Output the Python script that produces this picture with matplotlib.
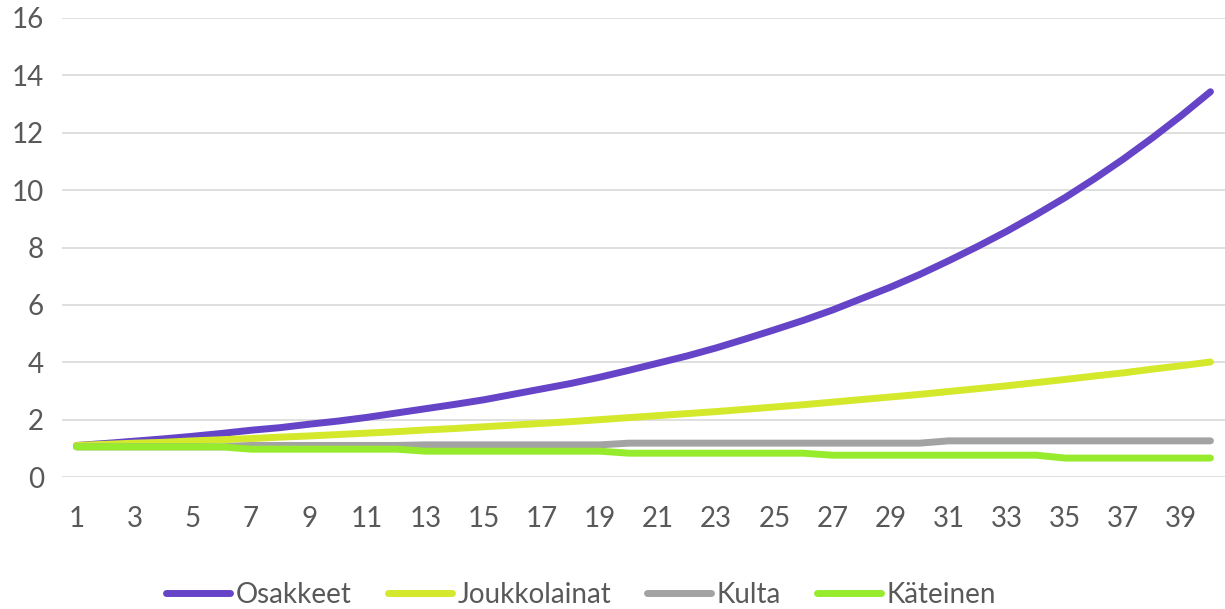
import matplotlib.pyplot as plt

# years 1..40
years = list(range(1, 41))

osakkeet = [1.10, 1.17, 1.25, 1.33, 1.42, 1.52, 1.63, 1.72, 1.84, 1.95,
            2.08, 2.23, 2.38, 2.53, 2.69, 2.88, 3.07, 3.26, 3.48, 3.72,
            3.97, 4.22, 4.50, 4.81, 5.13, 5.46, 5.82, 6.22, 6.62, 7.06,
            7.54, 8.04, 8.57, 9.14, 9.74, 10.39, 11.08, 11.82, 12.60, 13.43]

joukkolainat = [1.10, 1.14, 1.18, 1.21, 1.26, 1.30, 1.34, 1.39, 1.43, 1.48,
                1.53, 1.58, 1.64, 1.69, 1.75, 1.81, 1.87, 1.93, 2.00, 2.07,
                2.14, 2.21, 2.28, 2.36, 2.44, 2.52, 2.61, 2.70, 2.79, 2.88,
                2.98, 3.08, 3.18, 3.29, 3.40, 3.52, 3.63, 3.76, 3.88, 4.01]

kulta = [1.05, 1.05, 1.05, 1.05, 1.05, 1.05, 1.10, 1.10, 1.10, 1.10,
         1.10, 1.10, 1.12, 1.12, 1.12, 1.12, 1.12, 1.12, 1.12, 1.18,
         1.18, 1.18, 1.18, 1.18, 1.18, 1.18, 1.18, 1.18, 1.18, 1.18,
         1.26, 1.26, 1.26, 1.26, 1.26, 1.26, 1.26, 1.26, 1.26, 1.26]

kateinen = [1.05, 1.05, 1.05, 1.05, 1.05, 1.05, 0.97, 0.97, 0.97, 0.97,
            0.97, 0.97, 0.90, 0.90, 0.90, 0.90, 0.90, 0.90, 0.90, 0.83,
            0.83, 0.83, 0.83, 0.83, 0.83, 0.83, 0.76, 0.76, 0.76, 0.76,
            0.76, 0.76, 0.76, 0.76, 0.66, 0.66, 0.66, 0.66, 0.66, 0.66]

series = [
    ("Osakkeet", osakkeet, "#6544c8"),
    ("Joukkolainat", joukkolainat, "#d4e82c"),
    ("Kulta", kulta, "#a3a3a3"),
    ("Käteinen", kateinen, "#96ec2c"),
]

plt.rcParams['font.family'] = ['Lato', 'DejaVu Sans']

fig = plt.figure(figsize=(12.25, 6.09), dpi=100)
ax = fig.add_axes([62 / 1225, 1 - 477 / 609, 1 - 62 / 1225, (477 - 18) / 609])

for name, vals, col in series:
    ax.plot(years, vals, color=col, linewidth=5, label=name,
            solid_capstyle='round', solid_joinstyle='round')

ax.set_xlim(0.5, 40.5)
ax.set_ylim(0, 16)
ax.set_yticks(range(0, 17, 2))
ax.set_xticks(range(1, 40, 2))
ax.grid(axis='y', color='#d9d9d9', linewidth=1.2)
ax.set_axisbelow(True)
for s in ax.spines.values():
    s.set_visible(False)
ax.tick_params(length=0, labelsize=20, colors='#595959')
ax.tick_params(axis='y', pad=13)
ax.tick_params(axis='x', pad=21)

ax.legend(loc='center', bbox_to_anchor=(581 / 1225, 1 - 595 / 609),
          bbox_transform=fig.transFigure, ncol=4, frameon=False,
          fontsize=20, handlelength=2.3, handletextpad=0.2,
          columnspacing=1.3, labelcolor='#595959')

fig.savefig("out.png", dpi=100)
